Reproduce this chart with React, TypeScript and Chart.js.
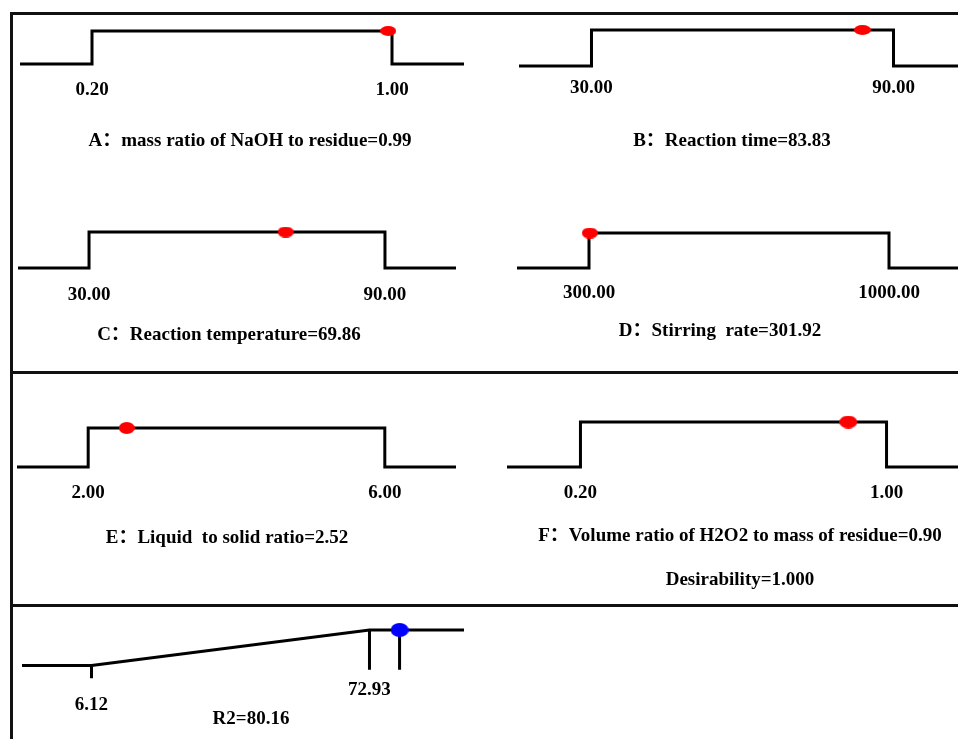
import React, { useEffect, useRef } from "react";
import { Chart, registerables } from "chart.js";

Chart.register(...registerables);

// ---------------- data ----------------
const factorNames = [
  "A：mass ratio of NaOH to residue",
  "B：Reaction time",
  "C：Reaction temperature",
  "D：Stirring  rate",
  "E：Liquid  to solid ratio",
  "F：Volume ratio of H2O2 to mass of residue",
];
const factorLow = [0.2, 30, 30, 300, 2, 0.2];
const factorHigh = [1.0, 90, 90, 1000, 6, 1.0];
const factorOptimum = [0.99, 83.83, 69.86, 301.92, 2.52, 0.9];

const responseName = "R2";
const responseLow = 6.12;
const responseHigh = 72.93;
const responsePredicted = 80.16;

const desirabilityName = "Desirability";
const desirabilityValue = 1.0;

// ---------------- style / layout ----------------
const FONT_FAMILY = "'Liberation Serif', 'Times New Roman', 'Noto Sans CJK SC', serif";
const TEXT_SIZE = 19;
const TEXT_COLOR = "#000";
const LINE_COLOR = "#000";
const LINE_WIDTH = 3;
const RAMP_PAD = 0.24; // flat extension each side, as share of range
const RESP_PAD_L = 0.25;
const RESP_PAD_R = 0.34;
const FACTOR_MARKER = "#ff0000";
const RESPONSE_MARKER = "#0000ff";

type PanelLayout = {
  left: number; right: number; top: number; height: number;
  highY: number; lowY: number; labelY: number; titleY: number; titleX: number;
  subY?: number; markerW: number; markerH: number;
};

const factorLayouts: PanelLayout[] = [
  { left: 20, right: 464, top: 16, height: 160, highY: 31, lowY: 64, labelY: 90, titleY: 141, titleX: 250, markerW: 16, markerH: 10 },
  { left: 519, right: 966, top: 16, height: 160, highY: 30, lowY: 66, labelY: 88, titleY: 141, titleX: 732, markerW: 17, markerH: 10 },
  { left: 18, right: 456, top: 185, height: 180, highY: 232, lowY: 268, labelY: 295, titleY: 335, titleX: 229, markerW: 16, markerH: 11 },
  { left: 517, right: 961, top: 185, height: 180, highY: 233, lowY: 268, labelY: 293, titleY: 331, titleX: 720, markerW: 16, markerH: 11 },
  { left: 17, right: 456, top: 378, height: 222, highY: 428, lowY: 467, labelY: 493, titleY: 538, titleX: 227, markerW: 16, markerH: 12 },
  { left: 507, right: 960, top: 378, height: 222, highY: 422, lowY: 467, labelY: 493, titleY: 536, titleX: 740, subY: 580, markerW: 18, markerH: 13 },
];
const responseLayout: PanelLayout = {
  left: 22, right: 464, top: 610, height: 129, highY: 630, lowY: 663, labelY: 688, titleY: 719, titleX: 251, markerW: 18, markerH: 14,
};

function ellipseStyle(w: number, h: number, color: string) {
  const c = document.createElement("canvas");
  c.width = w;
  c.height = h;
  const g = c.getContext("2d")!;
  g.fillStyle = color;
  g.beginPath();
  g.ellipse(w / 2, h / 2, w / 2, h / 2, 0, 0, Math.PI * 2);
  g.fill();
  return c;
}

function geometry(L: PanelLayout) {
  const mid = (L.left + L.right) / 2;
  const diff = 2 * (L.titleX - mid);
  const gL = Math.round(4 + Math.max(0, -diff));
  const gR = Math.round(4 + Math.max(0, diff));
  return { canvasLeft: L.left - gL, canvasWidth: L.right - L.left + gL + gR, gL, gR };
}

type Spec = {
  xMin: number; xMax: number; ticks: number[];
  tickLabel: (v: number, i: number) => string | string[];
  tickLines: number; labelLine: number; tickLH: number; titleLH: number;
  title: string; footer?: string; datasets: any[];
};

function makeConfig(L: PanelLayout, p: Spec): any {
  const g = geometry(L);
  const lh = TEXT_SIZE * 1.2;
  const tickPad = L.labelY - L.lowY - (p.labelLine + 0.5) * p.tickLH;
  const scaleBottom = L.lowY + 2 * tickPad + p.tickLines * p.tickLH;
  const subPad = Math.max(0, L.titleY - p.titleLH / 2 - scaleBottom);
  let bottom = scaleBottom + subPad + p.titleLH;
  let footPad = 0;
  if (p.footer && L.subY) {
    footPad = Math.max(0, L.subY - lh / 2 - bottom);
    bottom += footPad + lh;
  }
  const padBottom = Math.max(0, L.top + L.height - bottom);
  const font = { family: FONT_FAMILY, size: TEXT_SIZE, weight: "bold" as const };
  return {
    type: "scatter",
    data: { datasets: p.datasets },
    options: {
      responsive: false,
      maintainAspectRatio: false,
      animation: false,
      events: [],
      layout: { autoPadding: false, padding: { top: L.highY - L.top, bottom: padBottom, left: 0, right: 0 } },
      plugins: {
        legend: { display: false },
        tooltip: { enabled: false },
        subtitle: {
          display: true, position: "bottom", text: p.title, color: TEXT_COLOR,
          font: { ...font, lineHeight: p.titleLH + "px" }, padding: { top: subPad, bottom: 0 },
        },
        title: {
          display: !!p.footer, position: "bottom", text: p.footer || "", color: TEXT_COLOR,
          font: { ...font, lineHeight: lh + "px" }, padding: { top: footPad, bottom: 0 },
        },
      },
      scales: {
        x: {
          type: "linear", position: "bottom", min: p.xMin, max: p.xMax,
          grid: { display: false, drawTicks: false }, border: { display: false },
          afterBuildTicks: (s: any) => { s.ticks = p.ticks.map((v) => ({ value: v })); },
          ticks: {
            autoSkip: false, maxRotation: 0, minRotation: 0, padding: tickPad, color: TEXT_COLOR,
            font: { ...font, lineHeight: p.tickLH + "px" },
            callback: (v: any, i: number) => p.tickLabel(Number(v), i),
          },
        },
        y: {
          type: "linear", position: "left", min: 0, max: 1,
          ticks: { display: false }, grid: { display: false }, border: { display: false },
          afterFit: (s: any) => { s.width = g.gL; },
        },
        yR: {
          type: "linear", position: "right", min: 0, max: 1,
          ticks: { display: false }, grid: { display: false }, border: { display: false },
          afterFit: (s: any) => { s.width = g.gR; },
        },
      },
    },
  };
}

function lineDataset(data: { x: number; y: number }[]) {
  return {
    data, showLine: true, borderColor: LINE_COLOR, backgroundColor: LINE_COLOR, borderWidth: LINE_WIDTH,
    pointRadius: 0, borderJoinStyle: "miter", borderCapStyle: "butt", tension: 0, clip: false, order: 1,
  };
}

function markerDataset(x: number, L: PanelLayout, color: string) {
  return {
    data: [{ x, y: 1 }], showLine: false, pointStyle: ellipseStyle(L.markerW, L.markerH, color),
    pointRadius: 6, backgroundColor: color, borderColor: color, clip: false, order: 0,
  };
}

function factorSpec(i: number): Spec {
  const low = factorLow[i], high = factorHigh[i], opt = factorOptimum[i];
  const span = high - low;
  const xMin = low - RAMP_PAD * span, xMax = high + RAMP_PAD * span;
  return {
    xMin, xMax, ticks: [low, high],
    tickLabel: (v) => v.toFixed(2),
    tickLines: 1, labelLine: 0, tickLH: TEXT_SIZE * 1.2, titleLH: TEXT_SIZE * 1.2,
    title: `${factorNames[i]}=${opt.toFixed(2)}`,
    footer: i === factorNames.length - 1 ? `${desirabilityName}=${desirabilityValue.toFixed(3)}` : undefined,
    datasets: [
      markerDataset(opt, factorLayouts[i], FACTOR_MARKER),
      lineDataset([
        { x: xMin, y: 0 }, { x: low, y: 0 }, { x: low, y: 1 },
        { x: high, y: 1 }, { x: high, y: 0 }, { x: xMax, y: 0 },
      ]),
    ],
  };
}

function responseSpec(): Spec {
  const span = responseHigh - responseLow;
  const xMin = responseLow - RESP_PAD_L * span, xMax = responseHigh + RESP_PAD_R * span;
  return {
    xMin, xMax, ticks: [responseLow, responseHigh],
    tickLabel: (v, i) => (i === 0 ? ["", "", v.toFixed(2)] : ["", v.toFixed(2)]),
    tickLines: 3, labelLine: 1, tickLH: 15, titleLH: 12,
    title: `${responseName}=${responsePredicted.toFixed(2)}`,
    datasets: [
      markerDataset(responsePredicted, responseLayout, RESPONSE_MARKER),
      lineDataset([{ x: xMin, y: 0 }, { x: responseLow, y: 0 }, { x: responseHigh, y: 1 }, { x: xMax, y: 1 }]),
      lineDataset([{ x: responseLow, y: 0 }, { x: responseLow, y: -0.36 }]),
      lineDataset([{ x: responseHigh, y: 1 }, { x: responseHigh, y: -0.12 }]),
      lineDataset([{ x: responsePredicted, y: 1 }, { x: responsePredicted, y: -0.12 }]),
    ],
  };
}

function RampChart({ layout, spec }: { layout: PanelLayout; spec: () => Spec }) {
  const ref = useRef<HTMLCanvasElement>(null);
  const g = geometry(layout);
  useEffect(() => {
    const chart = new Chart(ref.current!, makeConfig(layout, spec()));
    return () => chart.destroy();
  }, []);
  return (
    <canvas
      ref={ref}
      width={g.canvasWidth}
      height={layout.height}
      style={{ position: "absolute", left: g.canvasLeft, top: layout.top, width: g.canvasWidth, height: layout.height }}
    />
  );
}

const frameColor = "#111";
const frameLines = [
  { left: 10, top: 12, width: 3, height: 727 },
  { left: 10, top: 12, width: 948, height: 3 },
  { left: 10, top: 371, width: 948, height: 3 },
  { left: 10, top: 604, width: 948, height: 3 },
];

export default function App() {
  return (
    <div style={{ position: "fixed", left: 0, top: 0, width: 958, height: 739, overflow: "hidden", background: "#fff" }}>
      {factorLayouts.map((L, i) => (
        <RampChart key={i} layout={L} spec={() => factorSpec(i)} />
      ))}
      <RampChart layout={responseLayout} spec={responseSpec} />
      {frameLines.map((f, i) => (
        <div key={"f" + i} style={{ position: "absolute", background: frameColor, ...f }} />
      ))}
    </div>
  );
}
